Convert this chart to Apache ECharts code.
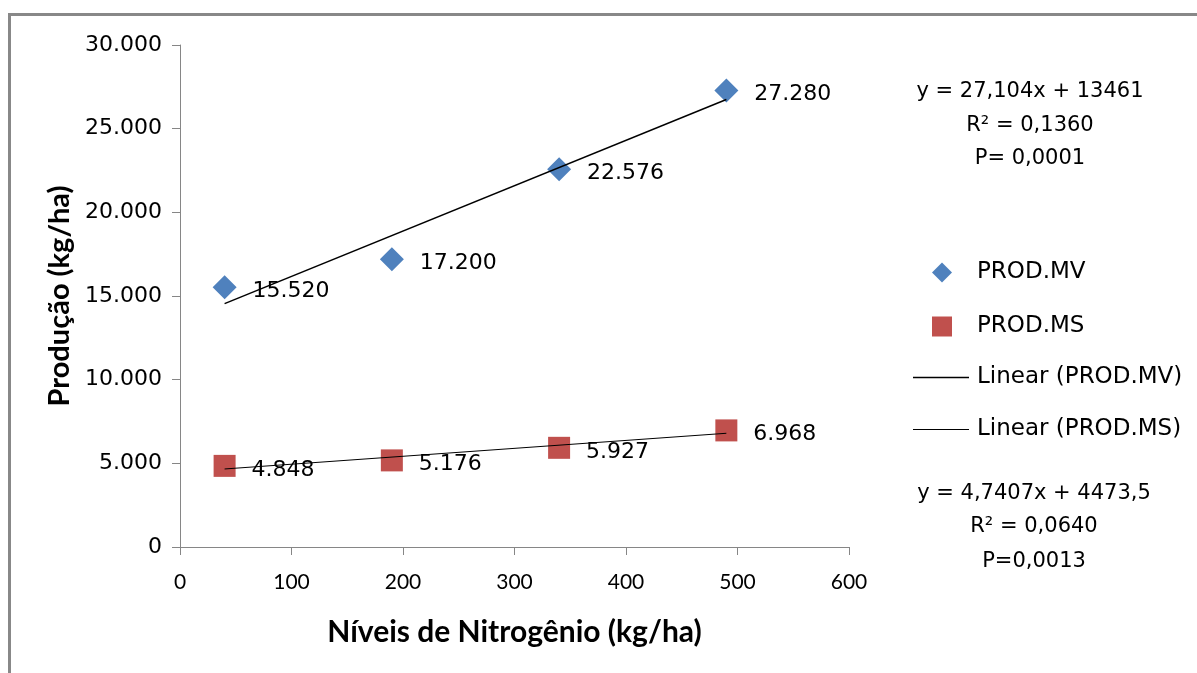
<!DOCTYPE html>
<html>
<head>
<meta charset="utf-8">
<style>html,body{margin:0;padding:0;background:#fff}#c{width:1197px;height:673px}</style>
<script src="https://cdn.jsdelivr.net/npm/echarts@6/dist/echarts.min.js"></script>
</head>
<body>
<div id="c"></div>
<script>
const nitrogenLevels = [40, 190, 340, 490];
const prodMV = [15520, 17200, 22576, 27280];
const prodMS = [4848, 5176, 5927, 6968];
// trend line endpoints
const trendMVx = [40, 490];
const trendMVy = [14545, 26742];
const trendMSx = [40, 490];
const trendMSy = [4663, 6796];
const eqMV = ['y = 27,104x + 13461', 'R² = 0,1360', 'P= 0,0001'];
const eqMS = ['y = 4,7407x + 4473,5', 'R² = 0,0640', 'P=0,0013'];

const FONT = '"DejaVu Sans"';
const TFONT = 'Lato';
const fmt = v => {
  const s = String(Math.round(v));
  return s.replace(/\B(?=(\d{3})+(?!\d))/g, '.');
};
const pairs = (xs, ys) => xs.map((x, i) => [x, ys[i]]);

const chart = echarts.init(document.getElementById('c'));
const labelCfg = {
  show: true, position: 'right', distance: 16, offset: [0, 4],
  color: '#000', fontFamily: FONT, fontSize: 22,
  formatter: p => fmt(p.value[1])
};
chart.setOption({
  animation: false,
  backgroundColor: '#fff',
  grid: { left: 180, right: 348, top: 45, bottom: 126 },
  xAxis: {
    type: 'value', min: 0, max: 600, interval: 100,
    name: 'Níveis de Nitrogênio (kg/ha)', nameLocation: 'middle', nameGap: 70,
    nameTextStyle: { fontFamily: TFONT, fontSize: 30, fontWeight: 'bold', color: '#000' },
    axisLine: { show: true, lineStyle: { color: '#868686', width: 1 } },
    axisTick: { show: true, length: 8, lineStyle: { color: '#868686' } },
    axisLabel: { margin: 25, fontFamily: TFONT, fontSize: 21, color: '#000' },
    splitLine: { show: false }
  },
  yAxis: {
    type: 'value', min: 0, max: 30000, interval: 5000,
    name: 'Produção (kg/ha)', nameLocation: 'middle', nameGap: 104,
    nameTextStyle: { fontFamily: TFONT, fontSize: 29, fontWeight: 'bold', color: '#000' },
    axisLine: { show: true, lineStyle: { color: '#868686', width: 1 } },
    axisTick: { show: true, length: 8, lineStyle: { color: '#868686' } },
    axisLabel: { margin: 18, fontFamily: FONT, fontSize: 22, color: '#000', formatter: v => fmt(v) },
    splitLine: { show: false }
  },
  legend: [
    {
      orient: 'vertical', left: 927, top: 256, itemWidth: 20, itemHeight: 20, itemGap: 31,
      data: [{ name: 'PROD.MV', icon: 'diamond' }, { name: 'PROD.MS', icon: 'rect' }],
      textStyle: { fontFamily: FONT, fontSize: 23, color: '#000', padding: [0, 0, 0, 20] }
    },
    {
      orient: 'vertical', left: 908, top: 361, itemWidth: 56, itemHeight: 20, itemGap: 29,
      data: [
        { name: 'Linear (PROD.MV)', icon: 'path://M0,0H56V1.3H0Z', itemStyle: { color: '#000' } },
        { name: 'Linear (PROD.MS)', icon: 'path://M0,0H56V1H0Z', itemStyle: { color: '#000' } }
      ],
      textStyle: { fontFamily: FONT, fontSize: 23, color: '#000', padding: [0, 0, 0, 3] }
    }
  ],
  series: [
    {
      name: 'Linear (PROD.MV)', type: 'line', data: pairs(trendMVx, trendMVy),
      symbol: 'none', itemStyle: { color: '#000' }, lineStyle: { color: '#000', width: 1.5 }, z: 3, silent: true
    },
    {
      name: 'Linear (PROD.MS)', type: 'line', data: pairs(trendMSx, trendMSy),
      symbol: 'none', itemStyle: { color: '#000' }, lineStyle: { color: '#000', width: 1 }, z: 3, silent: true
    },
    {
      name: 'PROD.MV', type: 'scatter', data: pairs(nitrogenLevels, prodMV),
      symbol: 'diamond', symbolSize: 24, itemStyle: { color: '#4F81BD', opacity: 1 }, label: labelCfg, z: 2
    },
    {
      name: 'PROD.MS', type: 'scatter', data: pairs(nitrogenLevels, prodMS),
      symbol: 'rect', symbolSize: 22, itemStyle: { color: '#C0504D', opacity: 1 }, label: labelCfg, z: 2
    }
  ],
  graphic: [
    { type: 'rect', left: 7, top: 12, shape: { width: 1200, height: 700 }, style: { fill: 'none', stroke: '#888', lineWidth: 3 }, silent: true },
    ...eqMV.map((t, i) => ({ type: 'text', x: 1030, y: [92, 126, 159][i], style: { text: t, align: 'center', verticalAlign: 'middle', font: '21px ' + FONT, fill: '#000' } })),
    ...eqMS.map((t, i) => ({ type: 'text', x: 1034, y: [494, 527, 562][i], style: { text: t, align: 'center', verticalAlign: 'middle', font: '21px ' + FONT, fill: '#000' } }))
  ]
});
</script>
</body>
</html>
